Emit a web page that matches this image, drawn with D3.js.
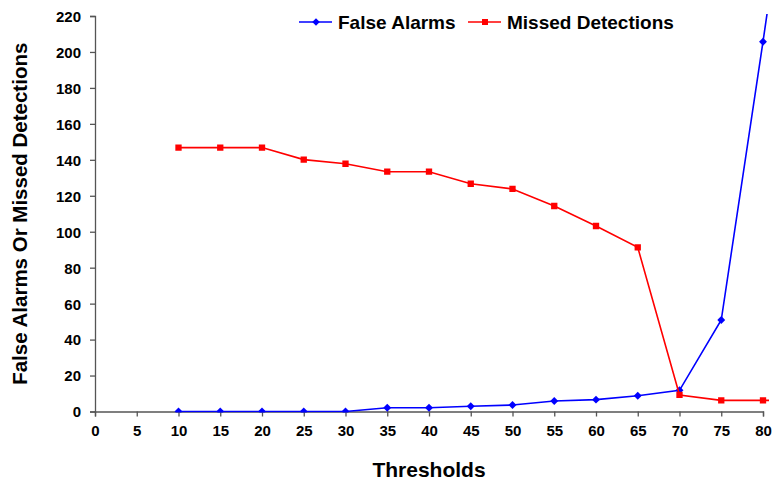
<!DOCTYPE html>
<html>
<head>
<meta charset="utf-8">
<script src="https://cdn.jsdelivr.net/npm/d3@7"></script>
<style>
  body { margin: 0; background: #fff; }
  text { font-family: "Liberation Sans", Arial, sans-serif; font-weight: bold; fill: #000; }
</style>
</head>
<body>
<script>
// data (85 lies past the right edge and gets clipped)
var thresholds = [10, 15, 20, 25, 30, 35, 40, 45, 50, 55, 60, 65, 70, 75, 80, 85];
var falseAlarms = [0, 0, 0, 0, 0, 2.1, 2.1, 2.9, 3.6, 5.8, 6.6, 8.8, 11.8, 50.9, 205.7, 366];
var missedDetections = [146.8, 146.8, 146.8, 140.1, 137.8, 133.4, 133.4, 126.7, 123.8, 114.3, 103.2, 91.3, 9.2, 6.2, 6.2, 6.2];
var xTicks = d3.range(0, 85, 5);
var yTicks = d3.range(0, 240, 20);

var width = 780, height = 491;
var margin = {top: 16, right: 17, bottom: 79.5, left: 95};
var plotRight = 769;

var svg = d3.select("body").append("svg")
  .attr("width", width)
  .attr("height", height);

var x = d3.scaleLinear()
  .domain([0, 80])
  .range([margin.left, width - margin.right]);

var y = d3.scaleLinear()
  .domain([0, 220])
  .range([height - margin.bottom, margin.top]);

svg.append("defs").append("clipPath")
  .attr("id", "plotClip")
  .append("rect")
  .attr("x", margin.left)
  .attr("y", margin.top - 2)
  .attr("width", plotRight - margin.left)
  .attr("height", height - margin.bottom - margin.top + 3);

// axes
var yAxis = svg.append("g")
  .attr("transform", `translate(${margin.left},0)`)
  .call(d3.axisLeft(y).tickValues(yTicks).tickSize(5).tickPadding(9));

var xAxis = svg.append("g")
  .attr("transform", `translate(0,${height - margin.bottom})`)
  .call(d3.axisBottom(x).tickValues(xTicks).tickSize(5).tickPadding(9));

[xAxis, yAxis].forEach(g => {
  g.select(".domain").attr("stroke", "#555").attr("stroke-width", 1.3);
  g.selectAll(".tick line").attr("stroke", "#555").attr("stroke-width", 1.3);
  g.selectAll(".tick text").style("font-size", "15px").attr("fill", "#000");
});
yAxis.selectAll(".tick text").attr("dy", "0.36em");

// lines
var plot = svg.append("g").attr("clip-path", "url(#plotClip)");

var series = [
  {name: "False Alarms", values: falseAlarms, color: "#0000ff", marker: "diamond"},
  {name: "Missed Detections", values: missedDetections, color: "#ff0000", marker: "square"}
];

var line = d3.line()
  .x((d, i) => x(thresholds[i]))
  .y(d => y(d));

series.forEach(s => {
  plot.append("path")
    .datum(s.values)
    .attr("fill", "none")
    .attr("stroke", s.color)
    .attr("stroke-width", 1.6)
    .attr("d", line);

  var sym = s.marker === "diamond"
    ? d3.symbol().type(d3.symbolDiamond2).size(40)
    : d3.symbol().type(d3.symbolSquare).size(40);

  plot.selectAll(null)
    .data(s.values)
    .enter()
    .append("path")
    .attr("d", sym)
    .attr("transform", (d, i) => `translate(${x(thresholds[i])},${y(d)})`)
    .attr("fill", s.color);
});

// legend
var legend = svg.append("g").attr("transform", "translate(299,22)");
var legendX = [0, 169];
series.forEach((s, i) => {
  var g = legend.append("g").attr("transform", `translate(${legendX[i]},0)`);
  g.append("line")
    .attr("x1", 0).attr("x2", 33)
    .attr("stroke", s.color)
    .attr("stroke-width", 1.6);
  g.append("path")
    .attr("d", s.marker === "diamond"
      ? d3.symbol().type(d3.symbolDiamond2).size(36)()
      : d3.symbol().type(d3.symbolSquare).size(36)())
    .attr("transform", "translate(17,0)")
    .attr("fill", s.color);
  g.append("text")
    .attr("x", 39)
    .attr("dy", "0.36em")
    .style("font-size", "19px")
    .text(s.name);
});

// axis titles
svg.append("text")
  .attr("x", (x(0) + x(80)) / 2)
  .attr("y", 477)
  .attr("text-anchor", "middle")
  .style("font-size", "21px")
  .text("Thresholds");

svg.append("text")
  .attr("transform", `translate(26.5,${(y(0) + y(220)) / 2}) rotate(-90)`)
  .attr("text-anchor", "middle")
  .style("font-size", "20.5px")
  .text("False Alarms Or Missed Detections");
</script>
</body>
</html>
